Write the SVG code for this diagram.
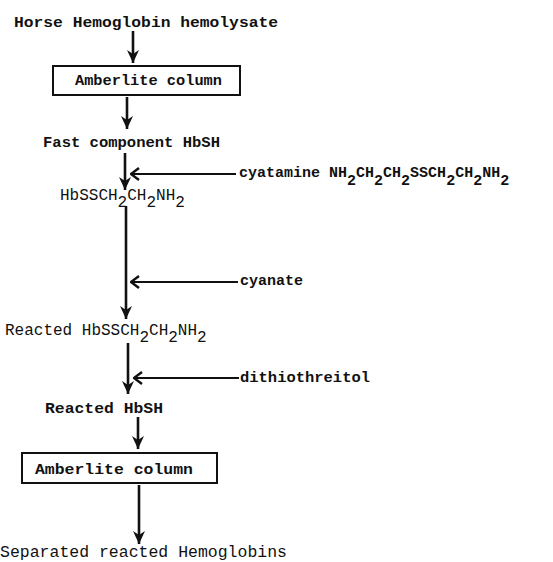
<svg xmlns="http://www.w3.org/2000/svg" width="553" height="562" viewBox="0 0 553 562">
<style>
text{font-family:"Liberation Mono","DejaVu Sans Mono",monospace;font-weight:bold;font-size:15px;fill:#111}
.thin{font-weight:normal;font-size:16px}
.box{fill:#fff;stroke:#111;stroke-width:2}
.v{stroke:#111;stroke-width:2.6;fill:none}
.h{stroke:#111;stroke-width:2;fill:none}
</style>
<defs>
<marker id="ah" markerUnits="userSpaceOnUse" markerWidth="14" markerHeight="14" refX="13" refY="6" orient="auto" viewBox="0 0 14 12">
<path d="M0,0 L13,6 L0,12 L4,6 z" fill="#111"/>
</marker>
<marker id="oh" markerUnits="userSpaceOnUse" markerWidth="12" markerHeight="14" refX="11" refY="7" orient="auto" viewBox="0 0 12 14">
<path d="M3,1 L11,7 L3,13" fill="none" stroke="#111" stroke-width="2.4" stroke-linejoin="miter"/>
</marker>
</defs>
<rect width="553" height="562" fill="#fff"/>
<g id="connectors">
<line class="v" x1="133" y1="31" x2="133" y2="63" marker-end="url(#ah)"/>
<line class="v" x1="127" y1="97" x2="127" y2="129" marker-end="url(#ah)"/>
<line class="v" x1="125" y1="153" x2="125" y2="190" marker-end="url(#ah)"/>
<line class="h" x1="236" y1="174" x2="131" y2="174" marker-end="url(#oh)"/>
<line class="v" x1="126" y1="206" x2="126" y2="319" marker-end="url(#ah)"/>
<line class="h" x1="238" y1="282" x2="131" y2="282" marker-end="url(#oh)"/>
<line class="v" x1="128" y1="343" x2="128" y2="394" marker-end="url(#ah)"/>
<line class="h" x1="239" y1="378" x2="134" y2="378" marker-end="url(#oh)"/>
<line class="v" x1="138" y1="417" x2="138" y2="449" marker-end="url(#ah)"/>
<line class="v" x1="139" y1="485" x2="139" y2="544" marker-end="url(#ah)"/>
</g>
<g id="n-hemolysate"><text x="14" y="27" textLength="264" lengthAdjust="spacingAndGlyphs">Horse Hemoglobin hemolysate</text></g>
<g id="n-column1"><rect class="box" x="53" y="66" width="187" height="29"/><text x="75" y="85" textLength="147" lengthAdjust="spacingAndGlyphs">Amberlite column</text></g>
<g id="n-fast"><text x="43" y="147" textLength="177" lengthAdjust="spacingAndGlyphs">Fast component HbSH</text></g>
<g id="n-cystamine"><text x="239" y="177">cyatamine NH<tspan dy="8">2</tspan><tspan dy="-8">CH</tspan><tspan dy="8">2</tspan><tspan dy="-8">CH</tspan><tspan dy="8">2</tspan><tspan dy="-8">SSCH</tspan><tspan dy="8">2</tspan><tspan dy="-8">CH</tspan><tspan dy="8">2</tspan><tspan dy="-8">NH</tspan><tspan dy="8">2</tspan></text></g>
<g id="n-hbss"><text class="thin" x="60" y="200">HbSSCH<tspan dy="7">2</tspan><tspan dy="-7">CH</tspan><tspan dy="7">2</tspan><tspan dy="-7">NH</tspan><tspan dy="7">2</tspan></text></g>
<g id="n-cyanate"><text x="240" y="285" textLength="63" lengthAdjust="spacingAndGlyphs">cyanate</text></g>
<g id="n-reacted-hbss"><text class="thin" x="5" y="335">Reacted HbSSCH<tspan dy="7">2</tspan><tspan dy="-7">CH</tspan><tspan dy="7">2</tspan><tspan dy="-7">NH</tspan><tspan dy="7">2</tspan></text></g>
<g id="n-dtt"><text x="240" y="382" textLength="130" lengthAdjust="spacingAndGlyphs">dithiothreitol</text></g>
<g id="n-reacted-hbsh"><text x="45" y="413" textLength="118" lengthAdjust="spacingAndGlyphs">Reacted HbSH</text></g>
<g id="n-column2"><rect class="box" x="22" y="453" width="195" height="30"/><text x="35" y="474" textLength="158" lengthAdjust="spacingAndGlyphs">Amberlite column</text></g>
<g id="n-separated"><text class="thin" x="0" y="557" textLength="287" lengthAdjust="spacingAndGlyphs">Separated reacted Hemoglobins</text></g>
</svg>
